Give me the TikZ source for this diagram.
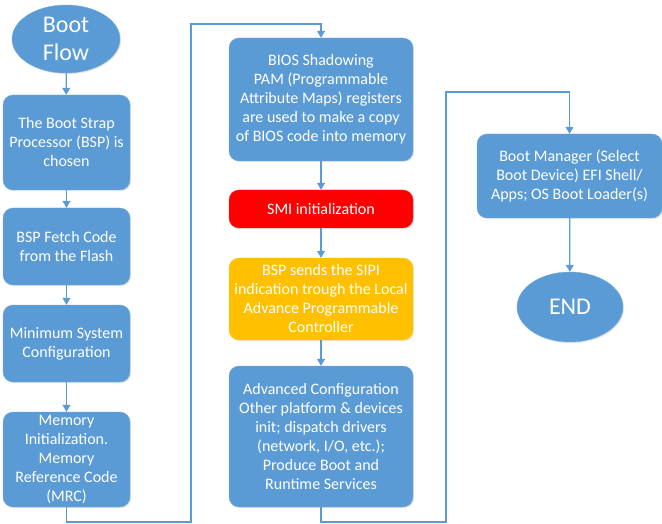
\documentclass[tikz,border=0pt]{standalone}
\usepackage{fontspec}
\setmainfont{Carlito}
\usetikzlibrary{shapes.geometric,arrows.meta,shadows}
\definecolor{flowblue}{HTML}{5B9BD5}
\definecolor{flowred}{HTML}{FF0000}
\definecolor{floworange}{HTML}{FFC000}
\tikzset{
  every picture/.style={x=1pt,y=-1pt},
  flowbox/.style={rectangle, rounded corners=10pt, fill=flowblue, draw=flowblue!85!white,
    line width=0.4pt, text=white, align=center, inner sep=2pt,
    font=\fontsize{16}{19}\selectfont,
    drop shadow={opacity=0.18, shadow xshift=1.2pt, shadow yshift=-1.2pt}},
  terminal/.style={ellipse, fill=flowblue, draw=flowblue!85!white, line width=0.4pt,
    text=white, align=center, inner sep=0pt,
    font=\fontsize{24}{28}\selectfont,
    drop shadow={opacity=0.18, shadow xshift=1.2pt, shadow yshift=-1.2pt}},
  link/.style={draw=flowblue, line width=1.2pt,
    -{Triangle[width=8pt,length=7pt]}},
}
\begin{document}
\begin{tikzpicture}
\useasboundingbox (0,0) rectangle (662,524);

% left column
\node[terminal, minimum width=108pt, minimum height=68pt] (start) at (66,39) {Boot\\Flow};
\node[flowbox, minimum width=127pt, minimum height=95pt] (bsp) at (66.5,142.5)
  {The Boot Strap\\Processor (BSP) is\\chosen};
\node[flowbox, minimum width=127pt, minimum height=77pt] (fetch) at (66.5,246.5)
  {BSP Fetch Code\\from the Flash};
\node[flowbox, minimum width=127pt, minimum height=77pt] (minsys) at (66.5,343.5)
  {Minimum System\\Configuration};
\node[flowbox, minimum width=127pt, minimum height=95pt] (mrc) at (66.5,459.5)
  {Memory\\Initialization.\\Memory\\Reference Code\\(MRC)};

% middle column
\node[flowbox, minimum width=184pt, minimum height=123pt] (shadow) at (321,99.5)
  {BIOS Shadowing\\PAM (Programmable\\Attribute Maps) registers\\are used to make a copy\\of BIOS code into memory};
\node[flowbox, fill=flowred, draw=flowred!85!white, minimum width=184pt, minimum height=38pt] (smi) at (321,209)
  {SMI initialization};
\node[flowbox, fill=floworange, draw=floworange!85!white, minimum width=184pt, minimum height=82pt] (sipi) at (321,299)
  {BSP sends the SIPI\\indication trough the Local\\Advance Programmable\\Controller};
\node[flowbox, minimum width=184pt, minimum height=141pt] (adv) at (321,436.5)
  {Advanced Configuration\\Other platform \& devices\\init; dispatch drivers\\(network, I/O, etc.);\\Produce Boot and\\Runtime Services};

% right column
\node[flowbox, minimum width=185pt, minimum height=84pt] (bootmgr) at (569.5,176)
  {Boot Manager (Select\\Boot Device) EFI Shell/\\Apps; OS Boot Loader(s)};
\node[terminal, minimum width=106pt, minimum height=70pt] (finish) at (570,307) {END};

% routing corners
\coordinate (l1) at (191,522);
\coordinate (l2) at (191,24);
\coordinate (r1) at (446,522);
\coordinate (r2) at (446,92);

% connectors
\draw[link] (start) -- (bsp);
\draw[link] (bsp) -- (fetch);
\draw[link] (fetch) -- (minsys);
\draw[link] (minsys) -- (mrc);
\draw[link] (mrc.south) |- (l1) -- (l2) -| (shadow.north);
\draw[link] (shadow) -- (smi);
\draw[link] (smi) -- (sipi);
\draw[link] (sipi) -- (adv);
\draw[link] (adv.south) |- (r1) -- (r2) -| (bootmgr.north);
\draw[link] (bootmgr) -- (finish);
\end{tikzpicture}
\end{document}
